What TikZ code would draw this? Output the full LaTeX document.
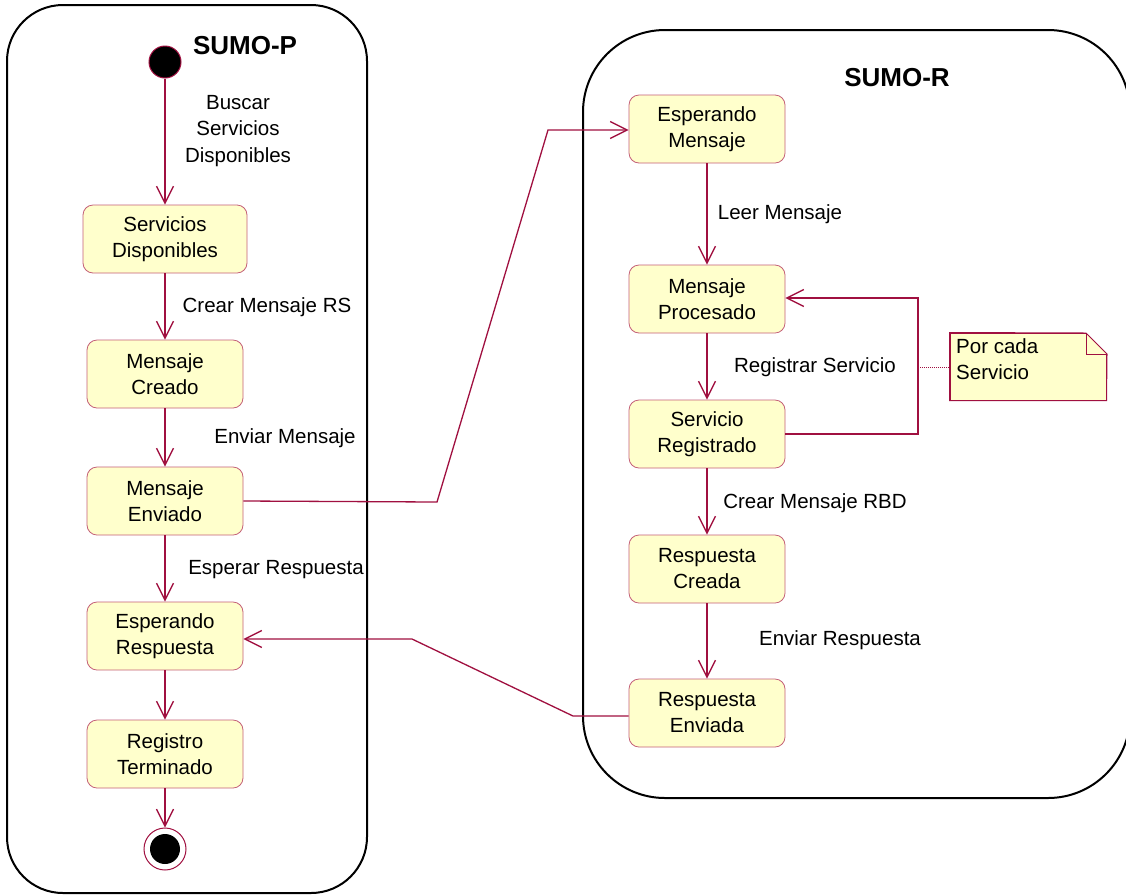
\documentclass[tikz,border=0pt]{standalone}
\usepackage{fontspec}
\setmainfont{Liberation Sans}
\usetikzlibrary{arrows.meta}
\definecolor{linkred}{RGB}{160,16,64}
\definecolor{boxedge}{RGB}{196,96,120}
\definecolor{boxfill}{RGB}{255,255,204}
\tikzset{
  lane/.style={draw=black,line width=2pt},
  statebox/.style={draw=boxedge,fill=boxfill,rounded corners=10pt,line width=0.8pt,
    minimum width=156pt,minimum height=68pt,align=center,
    font=\fontsize{20.5}{26}\selectfont,inner sep=0pt},
  flow/.style={draw=linkred,line width=1.3pt,
    -{Straight Barb[length=17pt,width=17pt,line width=1.3pt]}},
  lbl/.style={font=\fontsize{20.5}{26.5}\selectfont,align=center,inner sep=0pt},
  title/.style={font=\fontsize{26}{30}\bfseries\selectfont,inner sep=0pt},
  startdot/.style={circle,fill=black,draw=linkred,line width=1pt,minimum size=32pt,inner sep=0pt},
}
\begin{document}
\begin{tikzpicture}[x=1pt,y=-1pt]
\useasboundingbox (0,0) rectangle (1126,895);
\fill[white] (0,0) rectangle (1126,895);

% swimlanes
\draw[lane,rounded corners=56pt] (7,5) rectangle (367,893);
\draw[lane,rounded corners=82pt] (583,30) rectangle (1130,798);
\node[title] (tp) at (245,46) {SUMO-P};
\node[title] (tr) at (897,78) {SUMO-R};

% SUMO-P states
\node[startdot] (ini) at (165,62) {};
\node[statebox,minimum width=164pt] (sd) at (165,239) {Servicios\\Disponibles};
\node[statebox] (mc) at (165,374) {Mensaje\\Creado};
\node[statebox] (me) at (165,501) {Mensaje\\Enviado};
\node[statebox] (er) at (165,636) {Esperando\\Respuesta};
\node[statebox] (rt) at (165,754) {Registro\\Terminado};
\node[circle,draw=linkred,line width=1pt,minimum size=42pt,inner sep=0pt] (fin) at (165,849) {};
\fill[black] (fin.center) circle (15pt);

% SUMO-R states
\node[statebox] (em) at (707,129) {Esperando\\Mensaje};
\node[statebox] (mp) at (707,299) {Mensaje\\Procesado};
\node[statebox] (sr) at (707,434) {Servicio\\Registrado};
\node[statebox] (rc) at (707,569) {Respuesta\\Creada};
\node[statebox] (re) at (707,713) {Respuesta\\Enviada};

% note with folded corner
\node[draw=linkred,fill=boxfill,line width=1pt,minimum width=156pt,minimum height=67pt,inner sep=0pt] (note) at (1028,366.5) {};
\fill[white] (1086,333) -- (1107,333) -- (1107,354) -- cycle;
\draw[linkred,line width=1pt] (note.north west) -- (1086,333) -- (1107,354) -- (note.south east) -- (note.south west) -- cycle;
\draw[linkred,line width=1pt] (1086,333) -- (1086,354) -- (1107,354);
\node[lbl,anchor=north west,align=left] (notetxt) at (956,338) {Por cada\\Servicio};

% SUMO-P transitions
\draw[flow] (ini) -- (sd);
\draw[flow] (sd) -- (mc);
\draw[flow] (mc) -- (me);
\draw[flow] (me) -- (er);
\draw[flow] (er) -- (rt);
\draw[flow] (rt) -- (fin);

% SUMO-R transitions
\draw[flow] (em) -- (mp);
\draw[flow] (mp) -- (sr);
\draw[flow] (sr) -- (rc);
\draw[flow] (rc) -- (re);
\draw[flow] (sr.east) -- (918,434) -- (918,298) -- (mp.east |- 0,298);
\draw[linkred,line width=0.5pt,dash pattern=on 1pt off 1pt] (918,367) -- (note.west |- 0,367);

% messages between lanes
\draw[flow] (me.east) -- (437,502) -- (548,130) -- (em.west |- 0,130);
\draw[flow] (re.west |- 0,716) -- (573,716) -- (412,639) -- (er.east |- 0,639);

% transition labels
\node[lbl] (l1) at (238,131) {Buscar\\Servicios\\Disponibles};
\node[lbl] (l2) at (267,307) {Crear Mensaje RS};
\node[lbl] (l3) at (285,438) {Enviar Mensaje};
\node[lbl] (l4) at (276,570) {Esperar Respuesta};
\node[lbl] (l5) at (780,214) {Leer Mensaje};
\node[lbl] (l6) at (815,367) {Registrar Servicio};
\node[lbl] (l7) at (815,503) {Crear Mensaje RBD};
\node[lbl] (l8) at (840,640) {Enviar Respuesta};
\end{tikzpicture}
\end{document}
